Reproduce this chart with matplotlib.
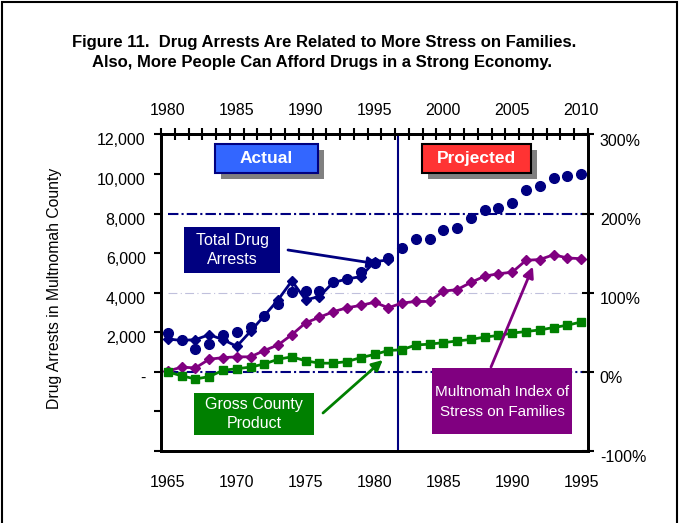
import numpy as np
import matplotlib.pyplot as plt
from matplotlib.patches import Rectangle
from matplotlib.transforms import ScaledTranslation

plt.rcParams['font.family'] = ['Liberation Sans', 'DejaVu Sans']

# 年份（下轴1965-1995，上轴对应+15年）
years = list(range(1965, 1996))
top_labels = list(range(1980, 2011, 5))

# 实际毒品逮捕数（菱形折线）
actual_years = list(range(1965, 1982))
arrests_actual = [1660, 1590, 1630, 1880, 1630, 1290, 2050, 2840, 3640,
                  4600, 3640, 3810, 4520, 4690, 4820, 5570, 5660]

# 逮捕数（圆点，含预测段）
arrests_dots = [1970, 1600, 1170, 1430, 1880, 2000, 2270, 2840, 3420, 4060,
                4110, 4110, 4520, 4690, 5070, 5500, 5750, 6250, 6700, 6700,
                7170, 7290, 7760, 8200, 8270, 8550, 9190, 9390, 9810, 9910,
                10000]

# 家庭压力指数（%）
stress_index = [1, 6, 5, 16, 18, 19, 19, 27, 34, 47, 62, 69, 76, 81, 84, 88,
                81, 87, 89, 89, 102, 104, 113, 121, 124, 126, 141, 142, 148,
                144, 143]

# 县生产总值（%）
county_product = [0, -5, -9, -6, 2, 4, 6, 10, 16, 19, 14, 11, 11, 13, 18, 22,
                  27, 28, 34, 35, 37, 39, 41, 44, 46, 49, 51, 53, 56, 59, 63]

left_ticks = list(range(-4000, 12001, 2000))
left_labels = ['', '', '-', '2,000', '4,000', '6,000', '8,000', '10,000', '12,000']
right_ticks = [-100, 0, 100, 200, 300]
right_labels = ['-100%', '0%', '100%', '200%', '300%']

split_year = 1981.7

NAVY = '#000080'
PURPLE = '#800080'
GREEN = '#008000'

W, H = 680, 523


def fx(px):
    return px / W


def fy(py):
    return 1 - py / H


def draw_box(fig, x0, y0, x1, y1, face, edge=None, shadow=False):
    if shadow:
        fig.patches.append(Rectangle((fx(x0 + 6), fy(y1 + 6)), fx(x1) - fx(x0), fy(y0) - fy(y1),
                                     transform=fig.transFigure, facecolor='#808080',
                                     edgecolor='none', zorder=1))
    fig.patches.append(Rectangle((fx(x0), fy(y1)), fx(x1) - fx(x0), fy(y0) - fy(y1),
                                 transform=fig.transFigure, facecolor=face,
                                 edgecolor=edge if edge else 'none', linewidth=1.5, zorder=2))


fig = plt.figure(figsize=(6.8, 5.23), dpi=100)
ax = fig.add_axes([fx(161), fy(451), fx(588) - fx(161), fy(134.5) - fy(451)])
ax2 = ax.twinx()

# 参考线
ax.hlines(8000, 1965, 1995.2, colors=NAVY, linewidth=1.5, linestyles=(0, (5, 1.5, 1, 1.5)))
ax.hlines(4000, 1965, 1995, colors='#c0c0dc', linewidth=0.8, linestyles=(0, (8, 3, 1, 3)))
ax.hlines(0, 1965, 1995.2, colors=NAVY, linewidth=1.5, linestyles=(0, (5, 1.5, 1, 1.5)))
ax.axvline(split_year, color=NAVY, linewidth=1.5)

# 逮捕数
ax.plot(actual_years, arrests_actual, color=NAVY, linewidth=2, marker='D', markersize=5)
ax.plot(years, arrests_dots, linestyle='none', marker='o', markersize=7, color=NAVY)

# 右轴：压力指数与县生产总值
ax2.plot(years, stress_index, color=PURPLE, linewidth=2, marker='D', markersize=5)
ax2.plot(years, county_product, color=GREEN, linewidth=2, marker='s', markersize=6)

ax.set_xlim(1964.5, 1995.5)
ax.set_ylim(-4000, 12000)
ax2.set_ylim(-100, 300)

ax.set_xticks(range(1965, 1996, 5))
ax.tick_params(axis='x', length=0, pad=17, labelsize=11.5)
ax.set_yticks(left_ticks)
ax.set_yticklabels(left_labels)
ax.tick_params(axis='y', direction='out', length=5, width=1.5, pad=6, labelsize=11.5)
ax2.set_yticks(right_ticks)
ax2.set_yticklabels(right_labels)
ax2.tick_params(axis='y', direction='inout', length=9, width=1.5, pad=4, labelsize=11.5)

# 纵轴刻度文字略向下偏移
shift = ScaledTranslation(0, -5 / 100, fig.dpi_scale_trans)
for lbl in ax.get_yticklabels() + ax2.get_yticklabels():
    lbl.set_transform(lbl.get_transform() + shift)

top = ax.secondary_xaxis('top', functions=(lambda x: x + 15, lambda x: x - 15))
top.set_xticks(top_labels)
top.set_xticks(np.arange(1979.5, 2011, 1), minor=True)
top.tick_params(which='major', length=0, pad=12, labelsize=11.5)
top.tick_params(which='minor', direction='inout', length=9, width=1.5)

for a in (ax, ax2):
    for s in a.spines.values():
        s.set_linewidth(2)
        s.set_color('black')
top.spines['top'].set_linewidth(2)

# 标题与轴标题
fig.text(fx(324), fy(43), 'Figure 11.  Drug Arrests Are Related to More Stress on Families.',
         ha='center', va='center', fontsize=12, fontweight='bold')
fig.text(fx(322), fy(62), 'Also, More People Can Afford Drugs in a Strong Economy.',
         ha='center', va='center', fontsize=12, fontweight='bold')
fig.text(fx(55), fy(288), 'Drug Arrests in Multnomah County', rotation=90,
         ha='center', va='center', fontsize=11.3)

# 实际 / 预测 标签
draw_box(fig, 215, 144, 318, 173, '#3366FF', NAVY, shadow=True)
fig.text(fx(266.5), fy(158.5), 'Actual', ha='center', va='center',
         color='white', fontsize=12.5, fontweight='bold', zorder=3)
draw_box(fig, 422, 144, 531, 173, '#FF3333', 'black', shadow=True)
fig.text(fx(476.5), fy(158.5), 'Projected', ha='center', va='center',
         color='white', fontsize=12.5, fontweight='bold', zorder=3)

# 系列说明框
draw_box(fig, 184, 227, 280, 273, NAVY)
fig.text(fx(232), fy(250), 'Total Drug\nArrests', ha='center', va='center',
         color='white', fontsize=11.5, linespacing=1.25, zorder=3)
draw_box(fig, 194, 393, 314, 435, GREEN)
fig.text(fx(254), fy(414), 'Gross County\nProduct', ha='center', va='center',
         color='white', fontsize=11.5, linespacing=1.25, zorder=3)
draw_box(fig, 432, 368, 572, 434, PURPLE)
fig.text(fx(502), fy(402), 'Multnomah Index of\nStress on Families', ha='center', va='center',
         color='white', fontsize=11, linespacing=1.6, zorder=3)

# 指示箭头
ax.annotate('', xy=(1980.3, 5450), xytext=(fx(288), fy(250)), textcoords='figure fraction',
            arrowprops=dict(arrowstyle='-|>', color=NAVY, lw=2, mutation_scale=16,
                            shrinkA=0, shrinkB=0))
ax2.annotate('', xy=(1980.6, 15), xytext=(fx(323), fy(413)), textcoords='figure fraction',
             arrowprops=dict(arrowstyle='-|>', color=GREEN, lw=2, mutation_scale=16,
                             shrinkA=0, shrinkB=0))
ax2.annotate('', xy=(1991.5, 133), xytext=(fx(491), fy(367)), textcoords='figure fraction',
             arrowprops=dict(arrowstyle='-|>', color=PURPLE, lw=2, mutation_scale=16,
                             shrinkA=0, shrinkB=0))

# 外框
fig.patches.append(Rectangle((fx(2), -0.05), fx(677) - fx(2), fy(2) + 0.05,
                             transform=fig.transFigure, fill=False,
                             edgecolor='black', linewidth=1.5, zorder=5))

fig.savefig('out.png', dpi=100)
